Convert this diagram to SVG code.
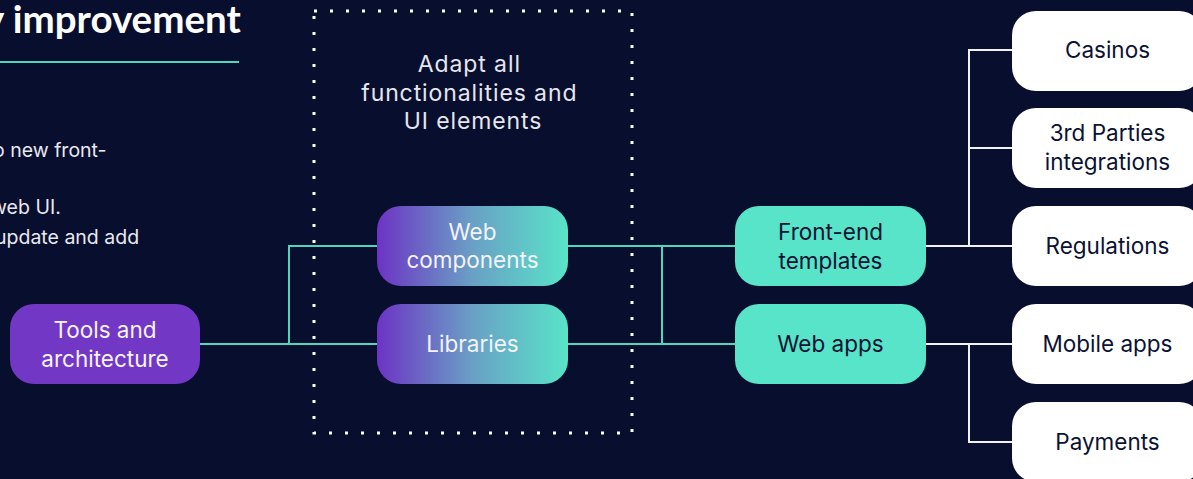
<svg xmlns="http://www.w3.org/2000/svg" width="1193" height="479" viewBox="0 0 1193 479">
<defs>
<linearGradient id="grad" x1="0" y1="0" x2="1" y2="0">
<stop offset="0" stop-color="#6d33c4"/>
<stop offset="0.5" stop-color="#6aa0c6"/>
<stop offset="1" stop-color="#58e4c8"/>
</linearGradient>
<style>
.node-text{font-family:Inter,"Open Sans",sans-serif;font-size:22.5px;text-anchor:middle}
.light{fill:#f4f4fa}
.dark{fill:#0b1233}
.teal{stroke:#4fd6bc;stroke-width:2;fill:none}
.white{stroke:#f2f2f2;stroke-width:2;fill:none}
.body{font-family:Inter,"Open Sans",sans-serif;font-size:19.5px;fill:#e8e9f0}
</style>
</defs>
<rect width="1193" height="479" fill="#080e2d"/>

<g id="title">
<text x="-16" y="33" font-family="Lato,'Liberation Sans',sans-serif" font-weight="bold" font-size="38.5" fill="#ffffff">y improvement</text>
<line x1="0" y1="62" x2="239" y2="62" stroke="#4fd6bc" stroke-width="2"/>
</g>

<g id="side-text">
<text class="body" x="-7" y="157">o new front-</text>
<text class="body" x="-9" y="214">web UI.</text>
<text class="body" x="-5" y="244">update and add</text>
</g>

<g id="adapt-group">
<rect x="314" y="11" width="318" height="422" fill="none" stroke="#ffffff" stroke-width="3" stroke-dasharray="3 13"/>
<text font-family="Inter,'Open Sans',sans-serif" font-size="23" fill="#e6e6ee" text-anchor="middle" letter-spacing="0.9">
<tspan x="473" y="72">Adapt all</tspan>
<tspan x="473" y="101">functionalities and</tspan>
<tspan x="473" y="129">UI elements</tspan>
</text>
</g>

<g id="connectors">
<path class="teal" d="M200 344H377M289 344V246H377"/>
<path class="teal" d="M568 246H735M568 344H735M662 246V344"/>
<path class="white" d="M926 246H1012M969 246V50H1012M969 148H1012"/>
<path class="white" d="M926 344H1012M969 344V442H1012"/>
</g>

<g id="tools">
<rect x="10" y="304" width="190" height="80" rx="24" fill="#7237c4"/>
<text class="node-text light"><tspan x="105" y="338">Tools and</tspan><tspan x="105" y="367">architecture</tspan></text>
</g>

<g id="web-components">
<rect x="377" y="206" width="191" height="80" rx="24" fill="url(#grad)"/>
<text class="node-text light"><tspan x="472.5" y="240">Web</tspan><tspan x="472.5" y="268">components</tspan></text>
</g>

<g id="libraries">
<rect x="377" y="304" width="191" height="80" rx="24" fill="url(#grad)"/>
<text class="node-text light" x="472.5" y="352">Libraries</text>
</g>

<g id="front-end-templates">
<rect x="735" y="206" width="191" height="80" rx="24" fill="#58e4c8"/>
<text class="node-text dark"><tspan x="830.5" y="240">Front-end</tspan><tspan x="830.5" y="269">templates</tspan></text>
</g>

<g id="web-apps">
<rect x="735" y="304" width="191" height="80" rx="24" fill="#58e4c8"/>
<text class="node-text dark" x="830.5" y="352">Web apps</text>
</g>

<g id="casinos">
<rect x="1012" y="11" width="191" height="80" rx="24" fill="#ffffff"/>
<text class="node-text dark" x="1107.5" y="58">Casinos</text>
</g>

<g id="third-parties">
<rect x="1012" y="108" width="191" height="80" rx="24" fill="#ffffff"/>
<text class="node-text dark"><tspan x="1107.5" y="141">3rd Parties</tspan><tspan x="1107.5" y="170">integrations</tspan></text>
</g>

<g id="regulations">
<rect x="1012" y="206" width="191" height="80" rx="24" fill="#ffffff"/>
<text class="node-text dark" x="1107.5" y="254">Regulations</text>
</g>

<g id="mobile-apps">
<rect x="1012" y="304" width="191" height="80" rx="24" fill="#ffffff"/>
<text class="node-text dark" x="1107.5" y="352">Mobile apps</text>
</g>

<g id="payments">
<rect x="1012" y="402" width="191" height="80" rx="24" fill="#ffffff"/>
<text class="node-text dark" x="1107.5" y="450">Payments</text>
</g>
</svg>
